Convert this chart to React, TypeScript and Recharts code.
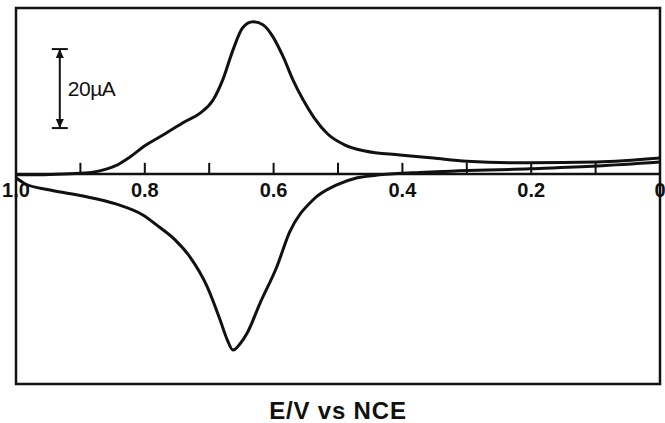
import React from 'react';
import {
  LineChart,
  Line,
  XAxis,
  YAxis,
  ReferenceLine,
  ReferenceArea,
  ReferenceDot,
  Label,
} from 'recharts';

// Anodic (forward) scan: potential E (V vs NCE) and current I (µA)
const anodicE = [1.0, 0.947, 0.901, 0.87, 0.846, 0.823, 0.8, 0.769, 0.738, 0.714, 0.694, 0.679, 0.663, 0.648, 0.632, 0.616, 0.601, 0.585, 0.57, 0.554, 0.537, 0.516, 0.489, 0.458, 0.404, 0.352, 0.3, 0.202, 0.098, 0.0];
const anodicI = [-0.25, -0.13, 0.13, 0.76, 2.0, 4.3, 7.1, 10.1, 13.2, 15.4, 18.7, 23.8, 31.4, 37.0, 38.5, 37.7, 34.7, 29.6, 23.8, 18.7, 14.2, 10.1, 7.3, 5.8, 4.8, 4.0, 3.2, 2.8, 3.0, 4.0];

// Cathodic (reverse) scan
const cathodicE = [1.0, 0.986, 0.947, 0.896, 0.845, 0.803, 0.778, 0.753, 0.73, 0.703, 0.683, 0.672, 0.663, 0.652, 0.641, 0.621, 0.595, 0.575, 0.539, 0.502, 0.47, 0.435, 0.365, 0.202, 0.098, 0.0];
const cathodicI = [-1.0, -2.5, -4.1, -5.6, -7.6, -10.4, -13.4, -16.7, -21.0, -28.6, -37.0, -42.0, -44.6, -43.0, -40.3, -32.7, -23.5, -14.7, -6.6, -2.8, -1.0, -0.25, 0.4, 1.3, 2.0, 3.0];

const minorTicks = [0.9, 0.8, 0.7, 0.6, 0.5, 0.4, 0.3, 0.2, 0.1];
const tickLabelValues = [1.0, 0.8, 0.6, 0.4, 0.2, 0.0];
const tickLabelTexts = ['1.0', '0.8', '0.6', '0.4', '0.2', '0'];

const xDomain = [0, 1];
const yDomain = [-53.2, 42];
const tickLength = 2.8; // µA

const scaleBarE = 0.932;
const scaleBarLow = 11.6;
const scaleBarHigh = 31.6;
const scaleBarText = '20µA';
const axisTitle = 'E/V vs NCE';

const anodic = anodicE.map((E, i) => ({ E, I: anodicI[i] }));
const cathodic = cathodicE.map((E, i) => ({ E, I: cathodicI[i] }));

const INK = '#111';
const FONT = '"Liberation Sans", Arial, Helvetica, sans-serif';

const makeCap = (dir: number) => (props: any) => {
  const { cx, cy } = props;
  return (
    <g>
      <line x1={cx - 8} x2={cx + 8} y1={cy} y2={cy} stroke={INK} strokeWidth={2} />
      <polygon
        points={`${cx},${cy} ${cx - 4},${cy + dir * 9} ${cx + 4},${cy + dir * 9}`}
        fill={INK}
      />
    </g>
  );
};

export default function App() {
  return (
    <div style={{ position: 'absolute', left: 0, top: 0, background: '#fff' }}>
      <LineChart
        width={665}
        height={423}
        margin={{ top: 8, right: 5, left: 16, bottom: 0 }}
      >
        <XAxis
          type="number"
          dataKey="E"
          domain={xDomain}
          reversed
          allowDataOverflow
          axisLine={false}
          tickLine={false}
          tick={false}
          height={39}
        >
          <Label
            value={axisTitle}
            position="center"
            dy={7}
            fill={INK}
            fontSize={24}
            fontWeight="bold"
            fontFamily={FONT}
            letterSpacing={0.8}
          />
        </XAxis>
        <YAxis type="number" domain={yDomain} hide allowDataOverflow />

        <ReferenceArea
          x1={xDomain[0]}
          x2={xDomain[1]}
          y1={yDomain[0]}
          y2={yDomain[1]}
          fill="none"
          fillOpacity={0}
          stroke={INK}
          strokeWidth={2.5}
          ifOverflow="visible"
        />
        <ReferenceLine y={0} stroke={INK} strokeWidth={2.5} />
        {minorTicks.map((t) => (
          <ReferenceLine
            key={'t' + t}
            segment={[
              { x: t, y: 0 },
              { x: t, y: tickLength },
            ]}
            stroke={INK}
            strokeWidth={2}
          />
        ))}
        {tickLabelValues.map((v, i) => (
          <ReferenceDot
            key={'l' + v}
            x={v}
            y={0}
            r={0}
            fill="none"
            stroke="none"
            ifOverflow="visible"
            label={{
              value: tickLabelTexts[i],
              position: 'bottom',
              offset: 9,
              fill: INK,
              fontSize: 20,
              fontWeight: 'bold',
              fontFamily: FONT,
            }}
          />
        ))}

        <ReferenceLine
          segment={[
            { x: scaleBarE, y: scaleBarLow },
            { x: scaleBarE, y: scaleBarHigh },
          ]}
          stroke={INK}
          strokeWidth={2}
        />
        <ReferenceDot x={scaleBarE} y={scaleBarHigh} r={1} shape={makeCap(1)} ifOverflow="visible" />
        <ReferenceDot x={scaleBarE} y={scaleBarLow} r={1} shape={makeCap(-1)} ifOverflow="visible" />
        <ReferenceDot
          x={scaleBarE}
          y={(scaleBarLow + scaleBarHigh) / 2}
          r={0}
          fill="none"
          stroke="none"
          ifOverflow="visible"
          label={{
            value: scaleBarText,
            position: 'right',
            offset: 8,
            fill: INK,
            fontSize: 21,
            fontFamily: FONT,
            letterSpacing: -0.5,
          }}
        />

        <Line
          data={anodic}
          dataKey="I"
          type="monotone"
          stroke={INK}
          strokeWidth={3}
          dot={false}
          isAnimationActive={false}
        />
        <Line
          data={cathodic}
          dataKey="I"
          type="monotone"
          stroke={INK}
          strokeWidth={3}
          dot={false}
          isAnimationActive={false}
        />
      </LineChart>
    </div>
  );
}
